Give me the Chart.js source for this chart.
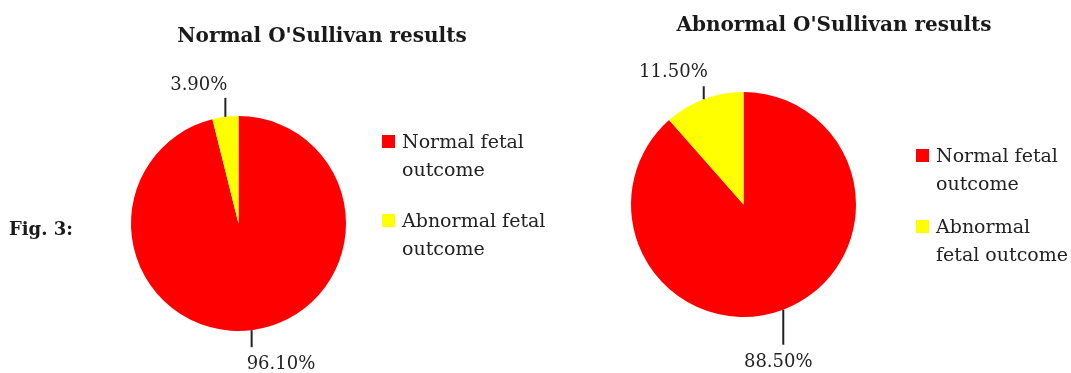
<!DOCTYPE html>
<html>
<head>
<meta charset="utf-8">
<script src="https://cdn.jsdelivr.net/npm/chart.js@4"></script>
<style>
  html, body { margin: 0; padding: 0; background: #ffffff; }
  #wrap { position: relative; width: 1071px; height: 373px; overflow: hidden; background: #fff; }
  canvas { position: absolute; top: 0; }
  #c1 { left: 0; }
  #c2 { left: 560px; }
</style>
</head>
<body>
<div id="wrap">
  <canvas id="c1" width="560" height="373"></canvas>
  <canvas id="c2" width="511" height="373"></canvas>
</div>
<script>
// ---- data ----
const categories = ['Normal fetal outcome', 'Abnormal fetal outcome'];
const normalOSullivanValues = [96.1, 3.9];
const abnormalOSullivanValues = [88.5, 11.5];
const chartTitles = ["Normal O'Sullivan results", "Abnormal O'Sullivan results"];
const legendLinesLeft = [['Normal fetal', 'outcome'], ['Abnormal fetal', 'outcome']];
const legendLinesRight = [['Normal fetal', 'outcome'], ['Abnormal', 'fetal outcome']];
const figureLabel = 'Fig. 3:';

// ---- styles ----
const sliceColors = ['#ff0000', '#ffff00'];
const textColor = '#222222';
const SERIF = '"DejaVu Serif", "Liberation Serif", serif';

const overlayPlugin = {
  id: 'overlay',
  afterDraw(chart, args, o) {
    const ctx = chart.ctx;
    const meta = chart.getDatasetMeta(0);
    ctx.save();
    // title
    ctx.fillStyle = '#1a1a1a';
    ctx.font = 'bold 20px ' + SERIF;
    ctx.textAlign = 'center';
    ctx.textBaseline = 'alphabetic';
    ctx.fillText(o.title, o.titleX, o.titleY);

    // figure label
    if (o.fig) {
      ctx.font = 'bold 18px ' + SERIF;
      ctx.textAlign = 'left';
      ctx.fillText(o.fig, o.figX, o.figY);
    }

    // value labels with vertical leader lines
    const values = chart.data.datasets[0].data;
    meta.data.forEach((arc, i) => {
      const p = arc.getProps(['x', 'y', 'startAngle', 'endAngle', 'outerRadius'], true);
      const mid = (p.startAngle + p.endAngle) / 2;
      const ax = p.x + Math.cos(mid) * p.outerRadius;
      const ay = p.y + Math.sin(mid) * p.outerRadius;
      const dir = Math.sin(mid) < 0 ? -1 : 1;
      const L = o.leaders[i];
      const ey = ay + dir * L.len;
      ctx.strokeStyle = textColor;
      ctx.lineWidth = 2;
      ctx.beginPath();
      ctx.moveTo(ax, ay);
      ctx.lineTo(ax, ey);
      ctx.stroke();
      ctx.fillStyle = textColor;
      ctx.font = '18px ' + SERIF;
      ctx.textAlign = L.align;
      ctx.fillText(values[i].toFixed(2) + '%', ax + L.dx, ey + L.dy);
    });

    // legend
    const colors = chart.data.datasets[0].backgroundColor;
    o.legend.items.forEach((lines, i) => {
      const it = o.legend.pos[i];
      ctx.fillStyle = colors[i];
      ctx.fillRect(it.x, it.y - o.legend.box, o.legend.box, o.legend.box);
      ctx.fillStyle = textColor;
      ctx.font = '19px ' + SERIF;
      ctx.textAlign = 'left';
      lines.forEach((t, k) => ctx.fillText(t, it.x + o.legend.box + 7, it.y + k * o.legend.lineH));
    });
    ctx.restore();
  }
};

function makePie(id, values, padding, overlay) {
  return new Chart(document.getElementById(id), {
    type: 'pie',
    data: {
      labels: categories,
      datasets: [{ data: values, backgroundColor: sliceColors, borderWidth: 0, hoverOffset: 0 }]
    },
    options: {
      responsive: false,
      animation: false,
      events: [],
      layout: { padding: padding },
      plugins: {
        legend: { display: false },
        tooltip: { enabled: false },
        title: { display: false },
        overlay: overlay
      }
    },
    plugins: [overlayPlugin]
  });
}

makePie('c1', normalOSullivanValues,
  { left: 131, right: 214, top: 116, bottom: 42 },
  {
    title: chartTitles[0], titleX: 322, titleY: 42,
    fig: figureLabel, figX: 9, figY: 235,
    leaders: [
      { len: 17, dx: -5, dy: 22, align: 'left' },
      { len: 19, dx: 2, dy: -8, align: 'right' }
    ],
    legend: {
      items: legendLinesLeft, box: 13, lineH: 28,
      pos: [{ x: 382, y: 148 }, { x: 382, y: 227 }]
    }
  });

makePie('c2', abnormalOSullivanValues,
  { left: 71, right: 215, top: 92, bottom: 56 },
  {
    title: chartTitles[1], titleX: 274, titleY: 31,
    leaders: [
      { len: 35, dx: -5, dy: 22, align: 'center' },
      { len: 13, dx: 4, dy: -9, align: 'right' }
    ],
    legend: {
      items: legendLinesRight, box: 13, lineH: 28,
      pos: [{ x: 356, y: 162 }, { x: 356, y: 233 }]
    }
  });
</script>
</body>
</html>
